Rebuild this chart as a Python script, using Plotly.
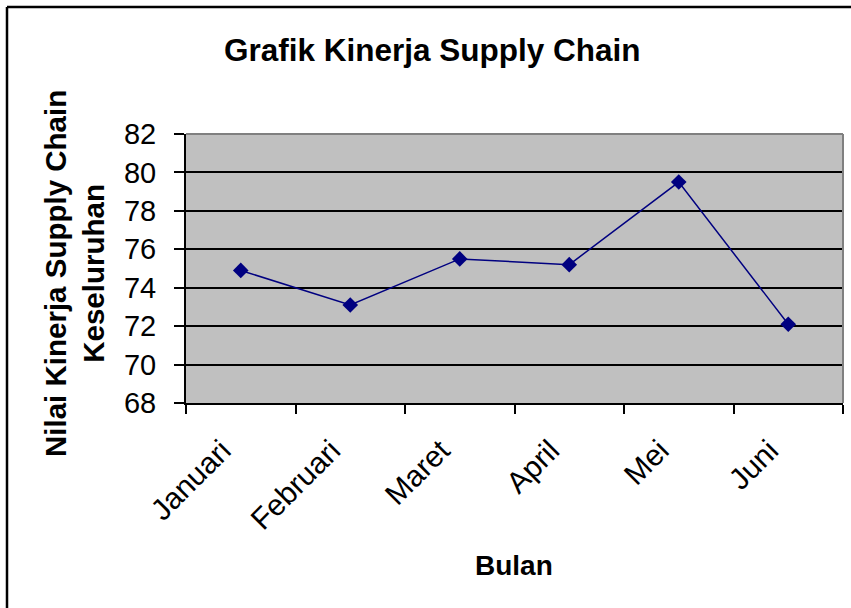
import plotly.graph_objects as go

months = ["Januari", "Februari", "Maret", "April", "Mei", "Juni"]
values = [74.9, 73.1, 75.5, 75.2, 79.5, 72.1]
y_ticks = [68, 70, 72, 74, 76, 78, 80, 82]

W, H = 851, 608
L, R, T, B = 186, 8, 134, 205
pw, ph = W - L - R, H - T - B

def px_x(px):
    return (px - L) / pw

def px_y(py):
    return (H - B - py) / ph

FONT = "Liberation Sans, Arial, sans-serif"
n = len(months)
idx = list(range(n))
boundaries = [i - 0.5 for i in range(n + 1)]
label_pos = [i - 0.17 for i in idx]
xr = [-0.5, n - 0.5]

fig = go.Figure()
fig.add_trace(go.Scatter(
    x=idx, y=values, mode="lines+markers",
    line=dict(color="#000080", width=1.5),
    marker=dict(symbol="diamond", size=12, color="#000080"),
    showlegend=False, hoverinfo="skip",
))

fig.update_layout(
    width=W, height=H,
    margin=dict(l=L, r=R, t=T, b=B, autoexpand=False),
    paper_bgcolor="white",
    plot_bgcolor="#C0C0C0",
    font=dict(family=FONT, color="black"),
    xaxis=dict(
        range=xr, tickvals=boundaries, showticklabels=False,
        ticks="outside", ticklen=9, tickwidth=2, tickcolor="black",
        showline=True, linecolor="black", linewidth=2, showgrid=False,
        zeroline=False,
    ),
    xaxis2=dict(
        overlaying="x", anchor="y", side="bottom", range=xr,
        tickvals=label_pos, ticktext=months, ticks="", tickangle=-45,
        tickfont=dict(size=30, family=FONT), ticklabelstandoff=23,
        showline=False, showgrid=False, zeroline=False,
    ),
    yaxis=dict(
        range=[68, 82], tickvals=y_ticks, ticks="outside", ticklen=10,
        tickwidth=2, tickcolor="black", showline=True, linecolor="black",
        linewidth=2, showgrid=True, gridcolor="black", gridwidth=2,
        zeroline=False, tickfont=dict(size=29, family=FONT),
        ticklabelstandoff=12,
    ),
    shapes=[
        dict(type="line", xref="paper", yref="paper", x0=0, x1=1, y0=1, y1=1,
             line=dict(color="#808080", width=2), layer="above"),
        dict(type="line", xref="paper", yref="paper", x0=1, x1=1, y0=0, y1=1,
             line=dict(color="#808080", width=2), layer="above"),
        dict(type="line", xref="paper", yref="paper",
             x0=px_x(7), x1=px_x(7), y0=px_y(7), y1=px_y(700),
             line=dict(color="black", width=2.5), layer="above"),
        dict(type="line", xref="paper", yref="paper",
             x0=px_x(7), x1=px_x(950), y0=px_y(7), y1=px_y(7),
             line=dict(color="black", width=2.5), layer="above"),
    ],
    annotations=[
        dict(text="<b>Grafik Kinerja Supply Chain</b>", xref="paper", yref="paper",
             x=px_x(432), y=px_y(50), xanchor="center", yanchor="middle",
             showarrow=False, font=dict(size=31.5, family=FONT)),
        dict(text="<b>Nilai Kinerja Supply Chain<br>Keseluruhan</b>", xref="paper",
             yref="paper", x=px_x(74), y=px_y(274), xanchor="center",
             yanchor="middle", textangle=-90, showarrow=False,
             font=dict(size=29.5, family=FONT)),
        dict(text="<b>Bulan</b>", xref="paper", yref="paper",
             x=px_x(514), y=px_y(565), xanchor="center", yanchor="middle",
             showarrow=False, font=dict(size=28, family=FONT)),
    ],
)

# invisible trace to activate the label axis
fig.add_trace(go.Scatter(x=[None], y=[None], xaxis="x2", showlegend=False,
                         hoverinfo="skip"))

fig.write_html(
    "out.html",
    config={"displayModeBar": False},
    post_script="document.body.style.margin='0';document.body.style.padding='0';",
)
